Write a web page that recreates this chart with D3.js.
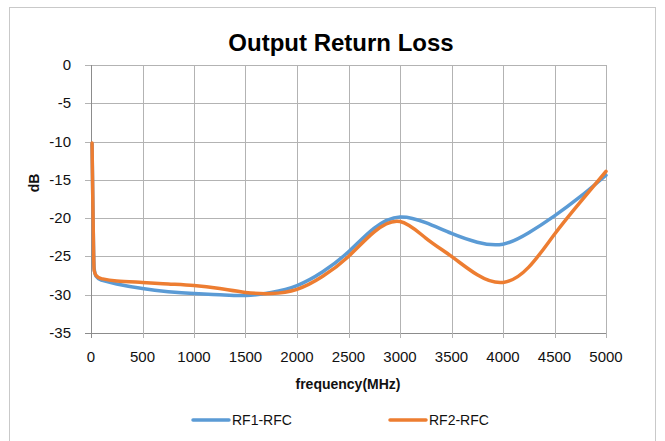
<!DOCTYPE html>
<html>
<head>
<meta charset="utf-8">
<script src="https://cdn.jsdelivr.net/npm/d3@7"></script>
<style>
  body { margin: 0; background: #fff; }
  text { font-family: "Liberation Sans", Arial, sans-serif; }
</style>
</head>
<body>
<div id="chart"></div>
<script>
// data
let seriesNames = ["RF1-RFC", "RF2-RFC"];
let rf1 = [[10,-10.3],[20,-20],[30,-26.5],[50,-27.6],[100,-28.1],[250,-28.6],[500,-29.2],[750,-29.6],
  [1000,-29.85],[1250,-30],[1500,-30.1],[1750,-29.7],[2000,-28.8],[2250,-27.0],[2500,-24.4],[2750,-21.3],
  [3000,-19.85],[3250,-20.6],[3500,-22.0],[3750,-23.15],[4000,-23.4],[4250,-21.9],
  [4500,-19.7],[4750,-17.2],[5000,-14.4]];
let rf2 = [[10,-10.2],[20,-20],[30,-26.8],[50,-27.5],[100,-27.9],[250,-28.2],[500,-28.4],[750,-28.6],
  [1000,-28.8],[1250,-29.2],[1500,-29.7],[1750,-29.85],[2000,-29.3],[2250,-27.6],[2500,-25.0],
  [2750,-21.8],[3000,-20.45],[3250,-22.6],[3500,-25.0],[3750,-27.4],[4000,-28.4],
  [4250,-26.4],[4500,-22.1],[4750,-17.9],[5000,-13.9]];
let xTicks = [0,500,1000,1500,2000,2500,3000,3500,4000,4500,5000];
let yTicks = [0,-5,-10,-15,-20,-25,-30,-35];
let colors = ["#5B9BD5", "#ED7D31"];

let width = 665, height = 441;
let margin = {top: 65, left: 91, right: 59, bottom: 108};

let svg = d3.select("#chart").append("svg")
  .attr("width", width)
  .attr("height", height);

// outer frame
svg.append("rect")
  .attr("x", 9.5).attr("y", 7.5)
  .attr("width", 646).attr("height", 440)
  .attr("fill", "#fff")
  .attr("stroke", "#c9c9c9");

let x = d3.scaleLinear().domain([0, 5000]).range([margin.left, width - margin.right]);
let y = d3.scaleLinear().domain([-35, 0]).range([height - margin.bottom, margin.top]);

// grid
svg.append("g").selectAll("line")
  .data(yTicks)
  .enter().append("line")
  .attr("x1", margin.left - 6).attr("x2", width - margin.right)
  .attr("y1", d => Math.round(y(d)) + 0.5).attr("y2", d => Math.round(y(d)) + 0.5)
  .attr("stroke", d => d == -35 ? "#8c8c8c" : "#b3b3b3");

svg.append("g").selectAll("line")
  .data(xTicks)
  .enter().append("line")
  .attr("x1", d => Math.round(x(d)) + 0.5).attr("x2", d => Math.round(x(d)) + 0.5)
  .attr("y1", margin.top).attr("y2", y(-35) + 5)
  .attr("stroke", d => d == 0 ? "#8c8c8c" : "#b3b3b3");

// tick labels
svg.append("g").selectAll("text")
  .data(yTicks)
  .enter().append("text")
  .attr("x", 71).attr("y", d => y(d) + 5)
  .attr("text-anchor", "end")
  .attr("font-size", 15)
  .attr("fill", "#111")
  .text(d => d);

svg.append("g").selectAll("text")
  .data(xTicks)
  .enter().append("text")
  .attr("x", d => x(d)).attr("y", 362)
  .attr("text-anchor", "middle")
  .attr("font-size", 15)
  .attr("fill", "#111")
  .text(d => d);

// titles
svg.append("text")
  .attr("x", 341).attr("y", 51)
  .attr("text-anchor", "middle")
  .attr("font-size", 24).attr("font-weight", "bold")
  .attr("fill", "#000")
  .text("Output Return Loss");

svg.append("text")
  .attr("x", 348).attr("y", 389)
  .attr("text-anchor", "middle")
  .attr("font-size", 14).attr("font-weight", "bold")
  .attr("fill", "#111")
  .text("frequency(MHz)");

svg.append("text")
  .attr("transform", "translate(39,183) rotate(-90)")
  .attr("text-anchor", "middle")
  .attr("font-size", 14).attr("font-weight", "bold")
  .attr("fill", "#111")
  .text("dB");

// lines: steep start with monotone, the rest with a natural spline
let lineStart = d3.line()
  .x(d => x(d[0]))
  .y(d => y(d[1]))
  .curve(d3.curveMonotoneX);
let lineRest = d3.line()
  .x(d => x(d[0]))
  .y(d => y(d[1]))
  .curve(d3.curveNatural);

[rf1, rf2].forEach(function(s, i){
  svg.append("path")
    .attr("d", lineStart(s.slice(0, 5)) + lineRest(s.slice(4)))
    .attr("fill", "none")
    .attr("stroke", colors[i])
    .attr("stroke-width", 3.5)
    .attr("stroke-linejoin", "round")
    .attr("stroke-linecap", "round");
});

// legend
let legendX = [193, 390];
seriesNames.forEach(function(name, i){
  svg.append("line")
    .attr("x1", legendX[i]).attr("x2", legendX[i] + 36)
    .attr("y1", 420).attr("y2", 420)
    .attr("stroke", colors[i]).attr("stroke-width", 3.5)
    .attr("stroke-linecap", "round");
  svg.append("text")
    .attr("x", legendX[i] + 39).attr("y", 425)
    .attr("font-size", 14)
    .attr("fill", "#111")
    .text(name);
});
</script>
</body>
</html>
